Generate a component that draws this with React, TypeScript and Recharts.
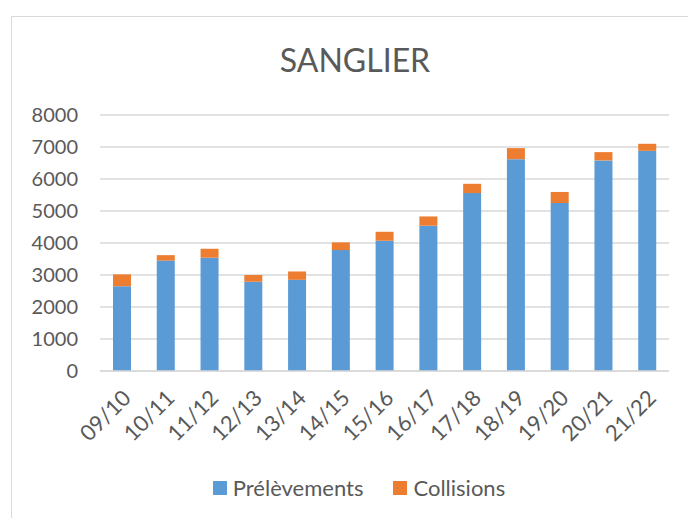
import React from 'react';
import { BarChart, Bar, XAxis, YAxis, CartesianGrid } from 'recharts';

const seasons = ['09/10', '10/11', '11/12', '12/13', '13/14', '14/15', '15/16', '16/17', '17/18', '18/19', '19/20', '20/21', '21/22'];
const prelevements = [2650, 3450, 3540, 2790, 2850, 3780, 4070, 4540, 5560, 6620, 5250, 6580, 6880];
const collisions = [370, 170, 280, 210, 260, 240, 280, 290, 290, 345, 345, 260, 220];
const yTicks = [0, 1000, 2000, 3000, 4000, 5000, 6000, 7000, 8000];
const seriesNames = ['Prélèvements', 'Collisions'];
const title = 'SANGLIER';

const data = seasons.map((s, i) => ({ season: s, prel: prelevements[i], coll: collisions[i] }));

const FONT = 'Lato, "Open Sans", sans-serif';
const TXT = '#595959';
const BLUE = '#5B9BD5';
const ORANGE = '#ED7D31';

const XTick = (props: any) => {
  const { x, y, payload } = props;
  return (
    <g transform={`translate(${x + 5},${y + 15}) rotate(-45)`}>
      <text x={0} y={0} dy="0.35em" textAnchor="end" fill={TXT} fontSize={22} fontFamily={FONT}>
        {payload.value}
      </text>
    </g>
  );
};

export default function App() {
  return (
    <div style={{ position: 'absolute', left: 0, top: 0, width: 688, height: 518, overflow: 'hidden', background: '#fff' }}>
      <div style={{ position: 'absolute', left: 11, top: 16, width: 800, height: 800, border: '1px solid #d9d9d9', boxSizing: 'border-box' }} />
      <div style={{ position: 'absolute', left: 0, width: 710, top: 40, textAlign: 'center', fontFamily: FONT, fontSize: 32, color: TXT, lineHeight: '40px' }}>
        {title}
      </div>
      <div style={{ position: 'absolute', left: 0, top: 0 }}>
        <BarChart width={688} height={518} data={data} margin={{ top: 115, right: 19, left: 0, bottom: 0 }} barSize={18}>
          <CartesianGrid vertical={false} stroke="#d9d9d9" strokeWidth={1.3} />
          <XAxis dataKey="season" axisLine={{ stroke: '#d9d9d9', strokeWidth: 1.3 }} tickLine={false} tick={<XTick />} interval={0} height={147} />
          <YAxis domain={[0, 8000]} ticks={yTicks} axisLine={false} tickLine={false} tickSize={0} tickMargin={22} width={100}
            tick={{ fill: TXT, fontSize: 20, fontFamily: FONT }} interval={0} />
          <Bar dataKey="prel" name={seriesNames[0]} stackId="a" fill={BLUE} isAnimationActive={false} />
          <Bar dataKey="coll" name={seriesNames[1]} stackId="a" fill={ORANGE} isAnimationActive={false} />
        </BarChart>
      </div>
      <div style={{ position: 'absolute', top: 475, left: 0, width: 718, display: 'flex', justifyContent: 'center', alignItems: 'center', fontFamily: FONT, fontSize: 22, color: TXT, lineHeight: '26px' }}>
        <span style={{ display: 'inline-block', width: 14, height: 14, background: BLUE, marginRight: 6 }} />
        <span style={{ marginRight: 30 }}>{seriesNames[0]}</span>
        <span style={{ display: 'inline-block', width: 14, height: 14, background: ORANGE, marginRight: 6 }} />
        <span>{seriesNames[1]}</span>
      </div>
    </div>
  );
}
